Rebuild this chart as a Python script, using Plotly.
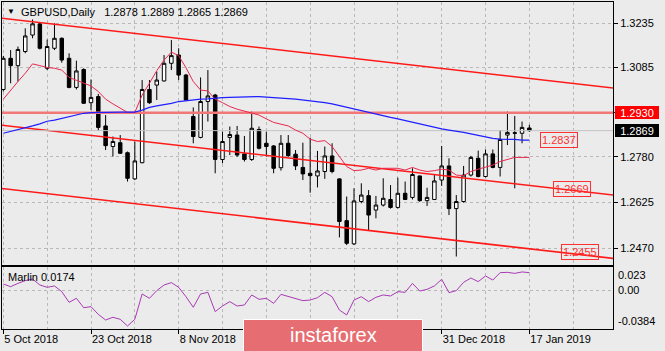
import plotly.graph_objects as go

# ---------------- data ----------------
tick_idx = [0, 12, 24, 60, 72]
tick_labels = ["5 Oct 2018", "23 Oct 2018", "8 Nov 2018", "31 Dec 2018", "17 Jan 2019"]

opens = [1.3009, 1.3115, 1.3090, 1.3138, 1.3194, 1.3232, 1.3081, 1.3149, 1.3183, 1.3115,
         1.3016, 1.3077, 1.2964, 1.2985, 1.2885, 1.2815, 1.2828, 1.2794, 1.2705, 1.2760,
         1.3009, 1.3024, 1.3038, 1.3098, 1.3126, 1.3058, 1.2917, 1.2846, 1.2968, 1.2990,
         1.2771, 1.2846, 1.2854, 1.2790, 1.2771, 1.2873, 1.2826, 1.2817, 1.2743, 1.2826,
         1.2789, 1.2744, 1.2724, 1.2715, 1.2730, 1.2783, 1.2705, 1.2563, 1.2484, 1.2628,
         1.2648, 1.2599, 1.2616, 1.2635, 1.2608, 1.2656, 1.2642, 1.2715, 1.2631, 1.2635,
         1.2701, 1.2749, 1.2604, 1.2628, 1.2718, 1.2775, 1.2713, 1.2790, 1.2744, 1.2854,
         1.2862, 1.2860, 1.2878]
highs = [1.3123, 1.3143, 1.3155, 1.3217, 1.3247, 1.3236, 1.3179, 1.3234, 1.3186, 1.3132,
         1.3107, 1.3081, 1.3043, 1.2994, 1.2922, 1.2849, 1.2854, 1.2798, 1.2832, 1.3041,
         1.3041, 1.3070, 1.3126, 1.3177, 1.3149, 1.3062, 1.2948, 1.3050, 1.3075, 1.2994,
         1.2866, 1.2883, 1.2885, 1.2851, 1.2934, 1.2883, 1.2866, 1.2820, 1.2854, 1.2854,
         1.2803, 1.2828, 1.2845, 1.2800, 1.2815, 1.2826, 1.2707, 1.2645, 1.2673, 1.2690,
         1.2667, 1.2647, 1.2707, 1.2684, 1.2709, 1.2696, 1.2741, 1.2716, 1.2675, 1.2718,
         1.2817, 1.2775, 1.2650, 1.2749, 1.2783, 1.2801, 1.2805, 1.2805, 1.2871, 1.2934,
         1.2919, 1.2900, 1.2889]
lows = [1.3002, 1.3030, 1.3036, 1.3132, 1.3183, 1.3145, 1.3075, 1.3143, 1.3100, 1.3013,
        1.3009, 1.2960, 1.2939, 1.2869, 1.2803, 1.2781, 1.2790, 1.2696, 1.2701, 1.2758,
        1.2960, 1.2973, 1.3036, 1.3075, 1.3041, 1.2971, 1.2826, 1.2843, 1.2900, 1.2724,
        1.2758, 1.2786, 1.2780, 1.2764, 1.2766, 1.2805, 1.2781, 1.2724, 1.2733, 1.2780,
        1.2735, 1.2701, 1.2658, 1.2676, 1.2705, 1.2724, 1.2506, 1.2480, 1.2480, 1.2622,
        1.2531, 1.2571, 1.2611, 1.2604, 1.2604, 1.2633, 1.2635, 1.2627, 1.2613, 1.2633,
        1.2681, 1.2582, 1.2441, 1.2624, 1.2713, 1.2710, 1.2710, 1.2741, 1.2713, 1.2820,
        1.2673, 1.2826, 1.2865]
closes = [1.3115, 1.3090, 1.3145, 1.3191, 1.3232, 1.3149, 1.3155, 1.3183, 1.3109, 1.3016,
          1.3072, 1.2962, 1.2982, 1.2880, 1.2818, 1.2832, 1.2792, 1.2707, 1.2766, 1.3009,
          1.2964, 1.3041, 1.3098, 1.3124, 1.3058, 1.2973, 1.2849, 1.2968, 1.2987, 1.2771,
          1.2832, 1.2856, 1.2786, 1.2771, 1.2877, 1.2809, 1.2815, 1.2741, 1.2826, 1.2784,
          1.2749, 1.2722, 1.2716, 1.2732, 1.2783, 1.2730, 1.2560, 1.2486, 1.2630, 1.2650,
          1.2582, 1.2616, 1.2639, 1.2608, 1.2656, 1.2635, 1.2720, 1.2631, 1.2642, 1.2698,
          1.2749, 1.2604, 1.2628, 1.2718, 1.2778, 1.2713, 1.2790, 1.2744, 1.2839, 1.2863,
          1.2860, 1.2880, 1.2869]

ma_red = [1.2976, 1.3007, 1.3036, 1.3064, 1.3096, 1.3090, 1.3084, 1.3081, 1.3075, 1.3050,
          1.3041, 1.3032, 1.3021, 1.3002, 1.2976, 1.2960, 1.2946, 1.2931, 1.2931, 1.2990,
          1.3030, 1.3073, 1.3109, 1.3136, 1.3124, 1.3083, 1.3036, 1.3007, 1.3004, 1.2976,
          1.2964, 1.2951, 1.2942, 1.2936, 1.2930, 1.2922, 1.2909, 1.2897, 1.2891, 1.2885,
          1.2871, 1.2860, 1.2840, 1.2832, 1.2835, 1.2815, 1.2781, 1.2747, 1.2733, 1.2735,
          1.2741, 1.2735, 1.2741, 1.2741, 1.2741, 1.2735, 1.2744, 1.2735, 1.2730, 1.2733,
          1.2738, 1.2735, 1.2718, 1.2716, 1.2730, 1.2738, 1.2744, 1.2752, 1.2764, 1.2772,
          1.2778, 1.2778, 1.2778]
ma_blue = [1.2860, 1.2866, 1.2871, 1.2877, 1.2885, 1.2892, 1.2901, 1.2905, 1.2911, 1.2917,
           1.2922, 1.2928, 1.2930, 1.2931, 1.2932, 1.2932, 1.2932, 1.2932, 1.2932, 1.2939,
           1.2948, 1.2953, 1.2957, 1.2962, 1.2968, 1.2971, 1.2973, 1.2976, 1.2977, 1.2980,
           1.2981, 1.2982, 1.2983, 1.2983, 1.2985, 1.2985, 1.2983, 1.2982, 1.2980, 1.2978,
           1.2976, 1.2973, 1.2971, 1.2969, 1.2964, 1.2960, 1.2954, 1.2948, 1.2943, 1.2937,
           1.2931, 1.2926, 1.2920, 1.2914, 1.2909, 1.2903, 1.2897, 1.2892, 1.2886, 1.2880,
           1.2875, 1.2871, 1.2868, 1.2863, 1.2858, 1.2853, 1.2847, 1.2843, 1.2840, 1.2840,
           1.2839, 1.2837, 1.2837]
marlin = [0.0062, 0.0035, 0.0068, 0.0095, 0.0111, 0.0052, 0.0029, 0.0042, -0.0014, -0.0120,
          -0.0080, -0.0173, -0.0163, -0.0239, -0.0295, -0.0268, -0.0288, -0.0354, -0.0288, -0.0037,
          -0.0080, -0.0004, 0.0052, 0.0075, 0.0029, -0.0064, -0.0169, -0.0037, -0.0021, -0.0212,
          -0.0156, -0.0113, -0.0156, -0.0146, -0.0047, -0.0090, -0.0080, -0.0130, -0.0041, -0.0064,
          -0.0087, -0.0103, -0.0097, -0.0074, -0.0021, -0.0064, -0.0196, -0.0245, -0.0097, -0.0064,
          -0.0113, -0.0070, -0.0047, -0.0057, -0.0014, -0.0021, 0.0068, -0.0008, 0.0009, 0.0042,
          0.0108, -0.0024, -0.0004, 0.0078, 0.0121, 0.0085, 0.0141, 0.0101, 0.0174, 0.0177,
          0.0167, 0.0181, 0.0174]

# trend channel anchors (bar index, price)
chan_x = [-0.2, 83.5]
chan_top = [1.32513, 1.30138]
chan_mid = [1.28875, 1.26500]
chan_bot = [1.26722, 1.24347]
level_price = 1.2930
bid_price = 1.2869
blue_label = 1.2837
mid_label = 1.2669
bot_label = 1.2455
price_ticks = [1.3235, 1.3085, 1.2930, 1.2780, 1.2625, 1.2470]
price_tick_text = ["1.3235", "1.3085", "", "1.2780", "1.2625", "1.2470"]
marlin_max, marlin_min = 0.023, -0.0384

# ---------------- figure ----------------
W, H = 665, 351
BG = "#ebebeb"
GRID = "#b8b8b8"
FONT = "Liberation Sans, Arial, sans-serif"
bars = list(range(len(opens)))

def px(x):
    return x / W

def py(y):
    return 1 - y / H

fig = go.Figure()
for ys in (chan_top, chan_mid, chan_bot):
    fig.add_trace(go.Scatter(x=chan_x, y=ys, mode="lines",
                             line=dict(color="#ff1a1a", width=1.6), hoverinfo="skip"))
fig.add_trace(go.Scatter(x=chan_x, y=[bid_price, bid_price], mode="lines",
                         line=dict(color="#c4c4c4", width=1), hoverinfo="skip"))
fig.add_trace(go.Scatter(x=chan_x, y=[level_price, level_price], mode="lines",
                         line=dict(color="#f27878", width=2.5), hoverinfo="skip"))
fig.add_trace(go.Candlestick(
    x=bars, open=opens, high=highs, low=lows, close=closes,
    increasing=dict(line=dict(color="black", width=1), fillcolor="white"),
    decreasing=dict(line=dict(color="black", width=1), fillcolor="black"),
    whiskerwidth=0, hoverinfo="skip"))
fig.add_trace(go.Scatter(x=bars, y=ma_red, mode="lines",
                         line=dict(color="#e8284e", width=1), hoverinfo="skip"))
fig.add_trace(go.Scatter(x=bars, y=ma_blue, mode="lines",
                         line=dict(color="#1f1fff", width=1.2), hoverinfo="skip"))
fig.add_trace(go.Scatter(x=bars, y=marlin, mode="lines", xaxis="x2", yaxis="y2",
                         line=dict(color="#a83ab4", width=1), hoverinfo="skip"))

xdom = [px(2), px(613)]
xrange = [-0.182, 83.45]
grid_vals = list(range(0, 90, 6))
frame = dict(showline=True, linecolor="black", linewidth=1, mirror=True, zeroline=False)

fig.update_layout(
    width=W, height=H, margin=dict(l=0, r=0, t=0, b=0),
    paper_bgcolor=BG, plot_bgcolor=BG, showlegend=False, boxgap=0.32,
    font=dict(family=FONT, size=11, color="black"),
    xaxis=dict(domain=xdom, range=xrange, anchor="y", tickvals=grid_vals,
               showticklabels=False, ticks="", showgrid=True, gridcolor=GRID,
               griddash="3px,3px", gridwidth=1, rangeslider=dict(visible=False), **frame),
    yaxis=dict(domain=[py(265), py(2)], range=[1.24122, 1.33064], side="right",
               anchor="x", tickvals=price_ticks, ticktext=price_tick_text,
               ticks="outside", ticklen=4, tickcolor="black", showgrid=True,
               gridcolor=GRID, griddash="3px,3px", **frame),
    xaxis2=dict(domain=xdom, range=xrange, anchor="y2", matches="x",
                tickvals=tick_idx, ticktext=tick_labels, ticks="outside", ticklen=4,
                tickcolor="black", ticklabelposition="outside right",
                showgrid=True, gridcolor=GRID, griddash="3px,3px",
                minor=dict(tickmode="linear", tick0=0, dtick=6, showgrid=True,
                           gridcolor=GRID, griddash="3px,3px", ticks=""),
                rangeslider=dict(visible=False), **frame),
    yaxis2=dict(domain=[py(329), py(267)], range=[marlin_min, marlin_max], side="right",
                anchor="x2", tickvals=[0], showticklabels=False, ticks="",
                showgrid=True, gridcolor=GRID, griddash="3px,3px", **frame),
)

ann = []
# header
ann.append(dict(xref="paper", yref="paper", x=px(5), y=py(12), xanchor="left",
                yanchor="middle", text="▼", showarrow=False, font=dict(size=8)))
ann.append(dict(xref="paper", yref="paper", x=px(19), y=py(12), xanchor="left",
                yanchor="middle", showarrow=False,
                text="GBPUSD,Daily\u00a0\u00a0 %.4f %.4f %.4f %.4f" % (opens[-1], highs[-1], lows[-1], closes[-1])))
ann.append(dict(xref="paper", yref="paper", x=px(6), y=py(277), xanchor="left",
                yanchor="middle", showarrow=False, text="Marlin %.4f" % marlin[-1]))
# indicator scale labels
ann.append(dict(xref="paper", yref="y2", x=px(616), y=marlin_max, xanchor="left",
                yanchor="top", showarrow=False, text="0.023"))
ann.append(dict(xref="paper", yref="y2", x=px(616), y=0, xanchor="left",
                yanchor="middle", showarrow=False, text="0.00"))
ann.append(dict(xref="paper", yref="y2", x=px(616), y=marlin_min, xanchor="left",
                yanchor="bottom", showarrow=False, text="-0.0384"))
# price boxes on the axis
for val, bg in ((level_price, "#ff0000"), (bid_price, "#000000")):
    ann.append(dict(xref="paper", yref="y", x=px(615), y=val, xanchor="left",
                    yanchor="middle", showarrow=False, text="%.4f" % val,
                    bgcolor=bg, font=dict(color="white"), width=42, height=11,
                    borderpad=1, borderwidth=0))
# text labels on the chart
for xi, val in ((73.46, blue_label), (75.2, mid_label), (76.33, bot_label)):
    ann.append(dict(xref="x", yref="y", x=xi, y=val, xanchor="left", yanchor="middle",
                    showarrow=False, text="%.4f" % val, font=dict(color="#ff3030"),
                    bordercolor="#ff3030", borderwidth=1, borderpad=1))
# watermark
ann.append(dict(xref="paper", yref="paper", x=px(333), y=py(335), xanchor="center",
                yanchor="middle", showarrow=False, text="instaforex",
                font=dict(color="white", size=20, family=FONT)))
fig.update_layout(annotations=ann)

fig.add_shape(type="rect", xref="paper", yref="paper", x0=px(243.5), x1=px(422.5),
              y0=-0.01, y1=py(319.5), fillcolor="#e66e72", line=dict(color="white", width=1),
              layer="above")

fig.write_html("out.html")
